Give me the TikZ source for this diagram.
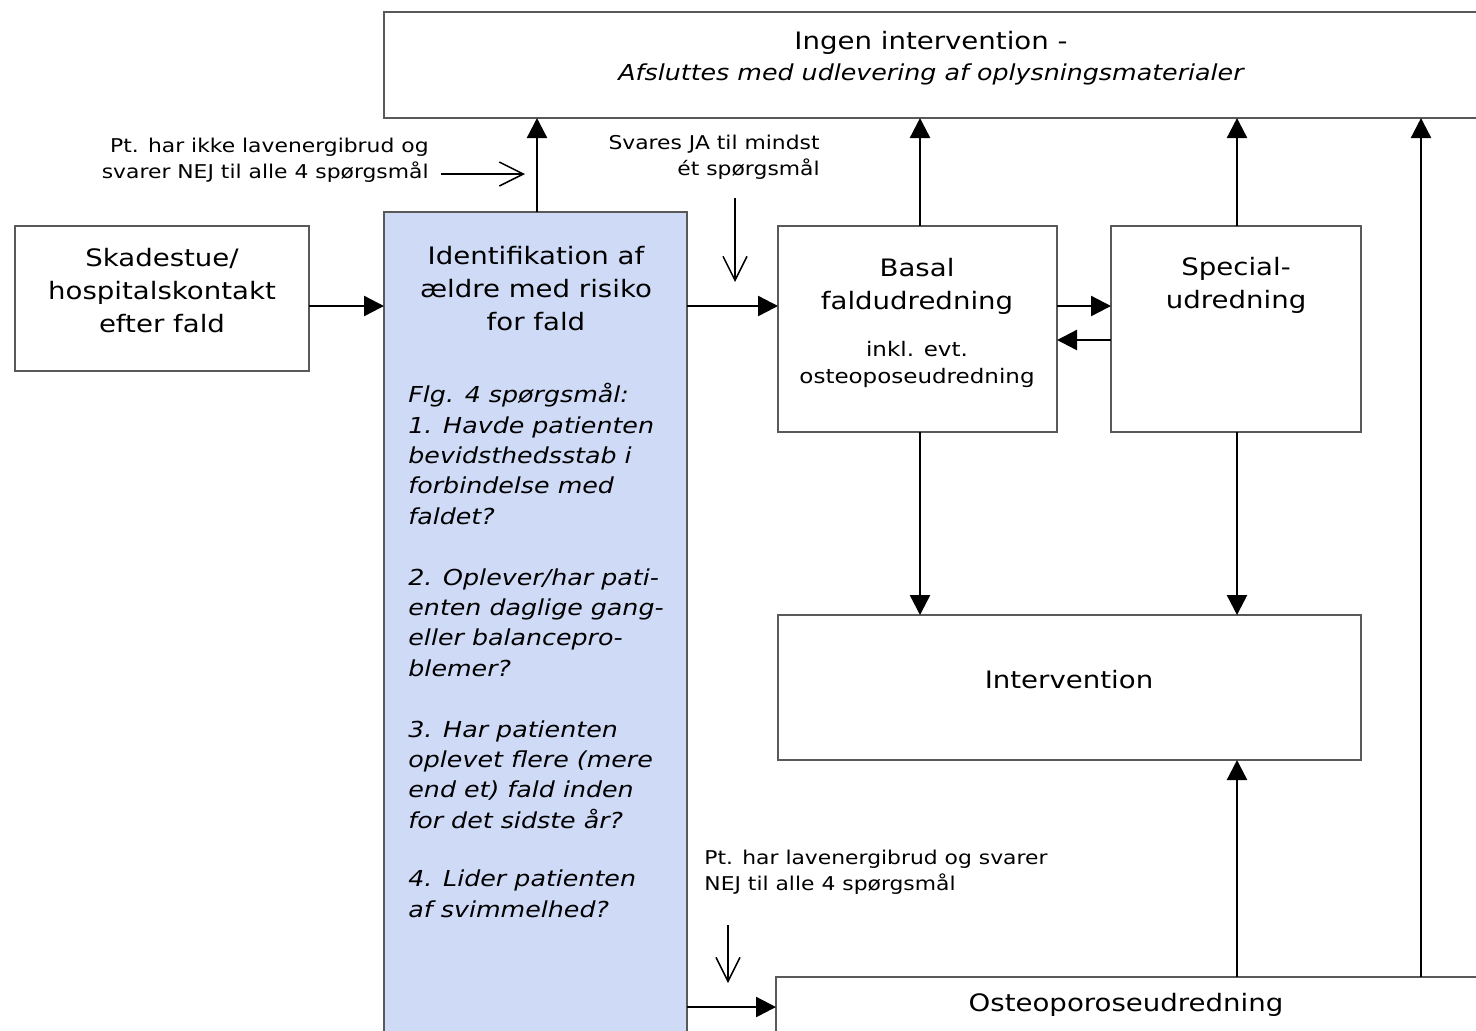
\documentclass[tikz,border=0pt]{standalone}
\usepackage{fontspec}
\setmainfont[FakeStretch=1.15]{DejaVu Sans}
\usetikzlibrary{arrows.meta}
\definecolor{bluefill}{HTML}{CFDAF6}
\begin{document}
\begin{tikzpicture}[x=0.5pt,y=-0.5pt,
  box/.style={draw=black!65, line width=1.4pt, fill=white, inner sep=0pt, outer sep=0pt},
  maintxt/.style={inner sep=0pt, align=center, font=\fontsize{12}{16.5}\selectfont},
  smalltxt/.style={inner sep=0pt, align=center, font=\fontsize{10}{13.5}\selectfont},
  qtxt/.style={inner sep=0pt, align=left, font=\fontsize{11}{15.2}\selectfont\itshape},
  notetxt/.style={inner sep=0pt, font=\fontsize{9.5}{13}\selectfont},
  arr/.style={line width=1.2pt, -{Triangle[length=10pt,width=10pt]}},
  notearr/.style={line width=0.75pt, -{Straight Barb[length=12pt,width=12pt,line width=0.75pt]}}
]
\useasboundingbox (0,0) rectangle (1476,1030);
\clip (0,0) rectangle (1476,1030);
\fill[white] (0,0) rectangle (1476,1030);

% boxes
\node[box, minimum width=553pt, minimum height=53pt] (top) at (937,65) {};
\node[maintxt] (topT) at (931,43) {Ingen intervention -};
\node[maintxt, font=\fontsize{11}{14}\selectfont\itshape] (topI) at (931,74) {Afsluttes med udlevering af oplysningsmaterialer};

\node[box, minimum width=147pt, minimum height=72.5pt] (skade) at (162,298.5) {};
\node[maintxt] (skadeT) at (162,291) {Skadestue/\\hospitalskontakt\\efter fald};

\node[box, fill=bluefill, minimum width=151.5pt, minimum height=414pt] (blue) at (535.5,626) {};
\node[maintxt] (blueT) at (536,289) {Identifikation af\\ældre med risiko\\for fald};
\node[qtxt, anchor=north west] (blueQ) at (408,383) {Flg. 4 spørgsmål:\\1. Havde patienten\\bevidsthedsstab i\\forbindelse med\\faldet?\\[15.2pt]2. Oplever/har pati-\\enten daglige gang-\\eller balancepro-\\blemer?\\[15.2pt]3. Har patienten\\oplevet flere (mere\\end et) fald inden\\for det sidste år?\\[14pt]4. Lider patienten\\af svimmelhed?};

\node[box, minimum width=139.5pt, minimum height=103pt] (basal) at (917.5,329) {};
\node[maintxt] (basalT) at (917,286.5) {Basal\\faldudredning};
\node[smalltxt] (basalS) at (917,364.5) {inkl. evt.\\osteoposeudredning};

\node[box, minimum width=125pt, minimum height=103pt] (special) at (1236,329) {};
\node[maintxt] (specialT) at (1236,285) {Special-\\udredning};

\node[box, minimum width=291.5pt, minimum height=72.5pt] (interv) at (1069.5,687.5) {};
\node[maintxt] (intervT) at (1069,680) {Intervention};

\node[box, minimum width=357pt, minimum height=31.5pt] (osteo) at (1133,1008.5) {};
\node[maintxt] (osteoT) at (1126,1005) {Osteoporoseudredning};

% main arrows
\draw[arr] (skade.east |- 0,306) -- (blue.west |- 0,306);
\draw[arr] (blue.east |- 0,306) -- (basal.west |- 0,306);
\draw[arr] (blue.north -| 537,0) -- (top.south -| 537,0);
\draw[arr] (basal.north -| 920,0) -- (top.south -| 920,0);
\draw[arr] (special.north -| 1237,0) -- (top.south -| 1237,0);
\draw[arr] (osteo.north -| 1421,0) -- (top.south -| 1421,0);
\draw[arr] (basal.east |- 0,306) -- (special.west |- 0,306);
\draw[arr] (special.west |- 0,340) -- (basal.east |- 0,340);
\draw[arr] (basal.south -| 920,0) -- (interv.north -| 920,0);
\draw[arr] (special.south -| 1237,0) -- (interv.north -| 1237,0);
\draw[arr] (osteo.north -| 1237,0) -- (interv.south -| 1237,0);
\draw[arr] (blue.east |- 0,1007) -- (osteo.west |- 0,1007);

% notes
\node[notetxt, align=right, anchor=east] (n1) at (429,160) {Pt. har ikke lavenergibrud og\\svarer NEJ til alle 4 spørgsmål};
\coordinate (n1s) at (441,174);
\coordinate (n1e) at (525,174);
\draw[notearr] (n1s) -- (n1e);

\node[notetxt, align=right, anchor=east] (n2) at (820,157) {Svares JA til mindst\\ét spørgsmål};
\coordinate (n2s) at (735,198);
\coordinate (n2e) at (735,282);
\draw[notearr] (n2s) -- (n2e);

\node[notetxt, align=left, anchor=west] (n3) at (704,872) {Pt. har lavenergibrud og svarer\\NEJ til alle 4 spørgsmål};
\coordinate (n3s) at (728,925);
\coordinate (n3e) at (728,983);
\draw[notearr] (n3s) -- (n3e);
\end{tikzpicture}
\end{document}
